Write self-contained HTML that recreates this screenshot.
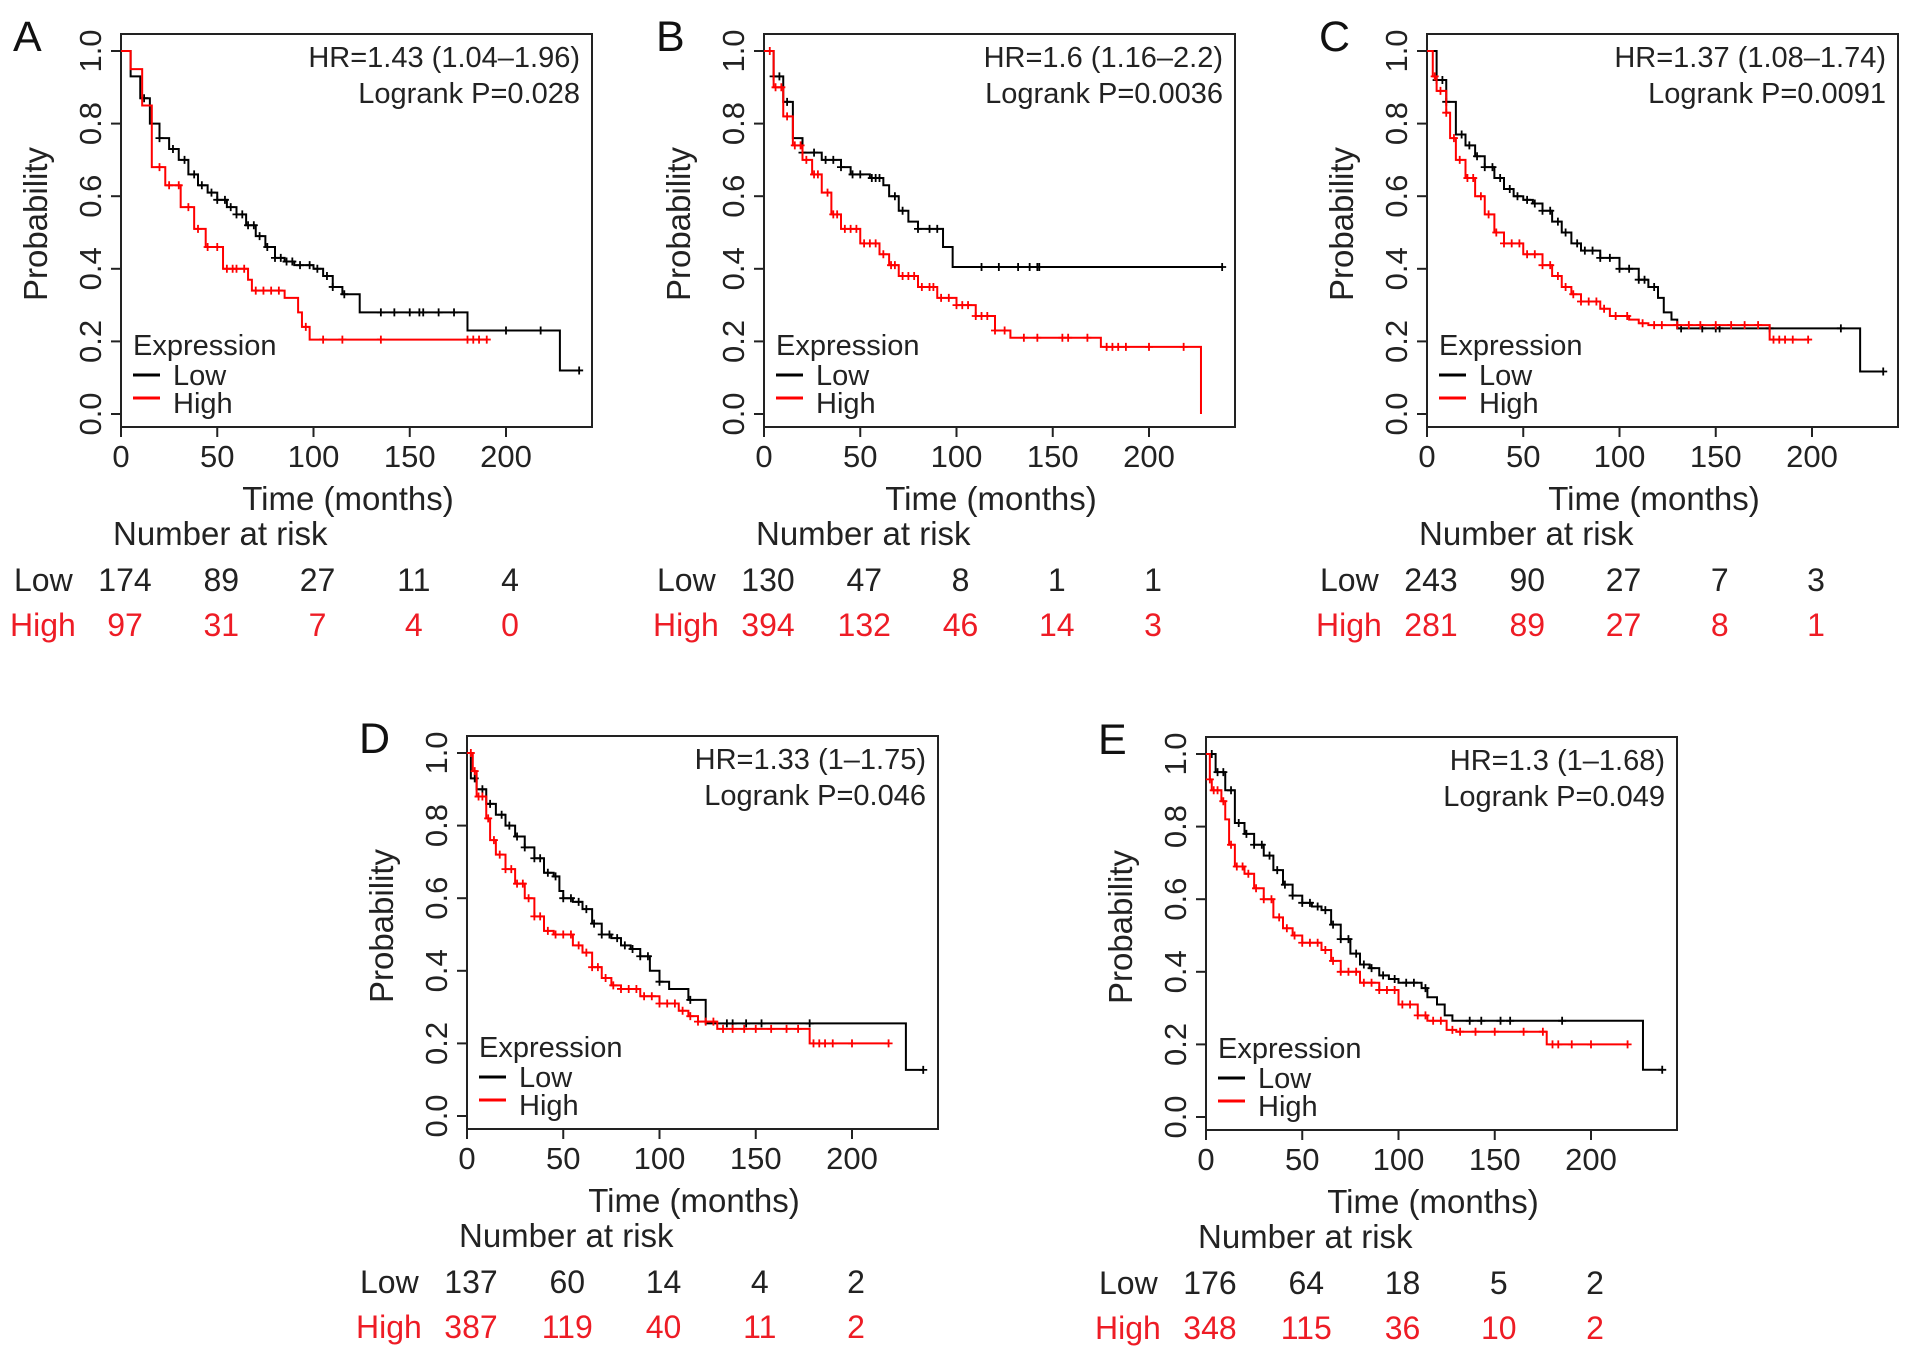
<!DOCTYPE html>
<html><head><meta charset="utf-8">
<style>
html,body{margin:0;padding:0;background:#fff;}
svg{display:block;font-family:"Liberation Sans",Arial,sans-serif;}
</style></head>
<body>
<svg id="fig" width="1913" height="1365" viewBox="0 0 1913 1365" xmlns="http://www.w3.org/2000/svg"></svg>
<script>
// ---- Data (months / survival probability) ----
const xTicks = [0, 50, 100, 150, 200];
const yTicks = [0, 0.2, 0.4, 0.6, 0.8, 1.0];
const yTickLabels = ["0.0", "0.2", "0.4", "0.6", "0.8", "1.0"];

// Panel A
const aLowT = [0,5,10,15,20,25,30,35,40,45,50,55,60,65,70,75,80,85,90,100,105,110,115,124,180,228];
const aLowS = [1,0.93,0.87,0.80,0.76,0.73,0.70,0.66,0.63,0.61,0.59,0.57,0.55,0.52,0.49,0.46,0.43,0.42,0.41,0.40,0.38,0.35,0.33,0.28,0.23,0.12];
const aLowEnd = 238;
const aLowC = [12,20,27,33,38,42,47,50,54,57,60,63,66,69,72,76,80,83,86,89,93,98,102,107,110,116,135,142,150,155,157,165,173,200,218,238];
const aHighT = [0,5,11,16,23,31,38,44,53,66,68,85,92,94,98];
const aHighS = [1,0.95,0.85,0.68,0.63,0.57,0.51,0.46,0.40,0.37,0.34,0.32,0.28,0.24,0.205];
const aHighEnd = 190;
const aHighC = [20,25,30,35,40,45,50,55,58,60,64,70,74,78,82,96,105,115,135,180,183,186,190];
const aRiskLow = [174,89,27,11,4];
const aRiskHigh = [97,31,7,4,0];

// Panel B
const bLowT = [0,5,10,15,20,30,40,45,55,62,65,70,75,80,93,98];
const bLowS = [1,0.93,0.86,0.76,0.72,0.70,0.68,0.66,0.65,0.63,0.60,0.56,0.53,0.51,0.46,0.405];
const bLowEnd = 238;
const bLowC = [5,8,12,20,26,32,36,40,46,50,56,58,60,68,72,80,86,90,113,122,132,138,142,143,238];
const bHighT = [0,5,10,15,20,25,30,35,40,50,60,65,70,80,90,100,110,120,128,175,227];
const bHighS = [1,0.90,0.82,0.74,0.70,0.66,0.61,0.55,0.51,0.47,0.44,0.41,0.38,0.35,0.32,0.30,0.27,0.23,0.21,0.185,0];
const bHighEnd = 227;
const bHighC = [3,6,9,12,16,19,22,26,28,33,36,38,42,45,48,52,55,58,62,66,68,72,75,78,82,86,88,92,96,100,103,106,110,113,116,120,125,135,142,155,158,168,178,181,184,188,200,218];
const bRiskLow = [130,47,8,1,1];
const bRiskHigh = [394,132,46,14,3];

// Panel C
const cLowT = [0,5,10,15,20,25,30,35,40,45,50,55,60,65,70,75,80,90,100,110,115,120,123,127,130,225];
const cLowS = [1,0.92,0.86,0.77,0.74,0.71,0.68,0.65,0.62,0.60,0.59,0.58,0.56,0.53,0.50,0.47,0.45,0.43,0.40,0.37,0.35,0.32,0.28,0.26,0.236,0.117];
const cLowEnd = 237;
const cLowC = [5,8,10,18,22,26,30,34,38,43,47,52,56,60,64,68,72,78,82,86,90,95,100,105,110,113,118,132,143,150,152,178,215,237];
const cHighT = [0,3,5,10,12,15,20,25,30,35,40,50,60,65,70,75,80,90,95,105,110,115,178];
const cHighS = [1,0.93,0.89,0.83,0.76,0.70,0.65,0.60,0.55,0.50,0.47,0.44,0.41,0.38,0.35,0.33,0.31,0.29,0.27,0.26,0.25,0.245,0.205];
const cHighEnd = 198;
const cHighC = [4,7,10,14,17,21,24,28,32,36,40,44,48,52,56,60,64,68,72,76,80,84,88,92,98,104,112,118,122,130,136,142,150,158,165,172,180,183,186,190,198];
const cRiskLow = [243,90,27,7,3];
const cRiskHigh = [281,89,27,8,1];

// Panel D
const dLowT = [0,2,5,10,15,20,25,30,35,40,45,48,50,55,60,65,70,75,80,85,90,95,100,105,115,124,228];
const dLowS = [1,0.93,0.90,0.86,0.83,0.80,0.77,0.74,0.71,0.67,0.66,0.62,0.60,0.59,0.57,0.53,0.50,0.49,0.47,0.46,0.44,0.40,0.37,0.35,0.32,0.255,0.127];
const dLowEnd = 237;
const dLowC = [4,8,12,18,22,26,30,35,38,42,46,50,54,58,62,66,70,74,78,82,86,90,94,100,116,135,138,145,153,178,237];
const dHighT = [0,3,5,10,12,15,20,25,30,35,40,45,55,60,65,70,75,80,90,100,110,115,120,130,178];
const dHighS = [1,0.95,0.88,0.82,0.76,0.72,0.68,0.64,0.60,0.55,0.51,0.50,0.47,0.45,0.41,0.38,0.36,0.35,0.33,0.31,0.29,0.275,0.26,0.24,0.20];
const dHighEnd = 219;
const dHighC = [2,4,6,8,11,14,17,20,23,26,29,32,35,38,42,46,50,54,58,62,65,68,72,76,80,84,88,92,96,100,104,108,112,116,120,124,128,133,138,144,150,158,166,172,180,183,186,190,200,219];
const dRiskLow = [137,60,14,4,2];
const dRiskHigh = [387,119,40,11,2];

// Panel E
const eLowT = [0,5,10,15,20,25,30,35,40,45,50,55,60,65,70,75,80,85,90,95,100,112,115,120,124,128,227];
const eLowS = [1,0.95,0.90,0.81,0.78,0.75,0.72,0.68,0.64,0.61,0.59,0.58,0.57,0.53,0.49,0.45,0.42,0.41,0.39,0.38,0.37,0.355,0.33,0.31,0.28,0.265,0.13];
const eLowEnd = 237;
const eLowC = [3,6,9,13,17,21,25,29,33,37,41,45,50,54,58,62,66,70,74,78,82,86,92,98,104,108,114,137,143,153,158,185,237];
const eHighT = [0,2,3,8,10,12,15,20,25,30,35,40,45,50,60,65,70,80,90,100,110,115,125,130,177];
const eHighS = [1,0.93,0.90,0.87,0.82,0.75,0.69,0.67,0.63,0.60,0.55,0.52,0.50,0.48,0.46,0.43,0.40,0.37,0.35,0.31,0.28,0.265,0.24,0.235,0.20];
const eHighEnd = 219;
const eHighC = [2,4,6,9,13,16,19,22,26,30,34,38,42,46,50,54,58,62,66,70,74,78,82,86,90,94,98,102,106,110,114,118,122,128,132,140,150,165,175,180,183,190,200,219];
const eRiskLow = [176,64,18,5,2];
const eRiskHigh = [348,115,36,10,2];

const RED = "#ff0000";
const TXTRED = "#ee1c25";
const svg = document.getElementById('fig');
const NS = "http://www.w3.org/2000/svg";

function mk(tag, attrs, parent, text) {
  const e = document.createElementNS(NS, tag);
  for (const k in attrs) e.setAttribute(k, attrs[k]);
  if (text !== undefined) e.textContent = text;
  parent.appendChild(e);
  return e;
}

function survAt(T, S, t) {
  let s = S[0];
  for (let i = 0; i < T.length; i++) { if (T[i] <= t) s = S[i]; }
  return s;
}

function drawPanel(p) {
  const g = mk('g', {}, svg);
  
  
  const L = p.L, T = p.T, W = 471, H = 393;
  const xs = t => L + t * 1.925;
  const ys = s => T + 17 + (1 - s) * 363;

  const lbl = mk('text', {x: L - 108, y: T + 17, 'font-size': 43, fill: '#111'}, g, p.letter);
  
  

  const box = mk('rect', {x: L, y: T, width: W, height: H, fill: 'none', stroke: '#222', 'stroke-width': 2}, g);
  
  

  // x axis
  const xa = mk('g', {}, g);
  
  
  xTicks.forEach(v => {
    mk('line', {x1: xs(v), x2: xs(v), y1: T + H, y2: T + H + 10, stroke: '#222', 'stroke-width': 2}, xa);
    const t = mk('text', {x: xs(v), y: T + H + 40, 'font-size': 31, 'text-anchor': 'middle', fill: '#222'}, xa, String(v));
    
    
  });
  const xt = mk('text', {x: L + 227, y: T + 476, 'font-size': 33, 'text-anchor': 'middle', fill: '#222'}, g, 'Time (months)');
  
  

  // y axis
  const ya = mk('g', {}, g);
  
  
  yTicks.forEach((v, i) => {
    mk('line', {x1: L - 10, x2: L, y1: ys(v), y2: ys(v), stroke: '#222', 'stroke-width': 2}, ya);
    const t = mk('text', {x: 0, y: 0, 'font-size': 31, 'text-anchor': 'middle', fill: '#222',
      transform: `translate(${L - 20},${ys(v)}) rotate(-90)`}, ya, yTickLabels[i]);
    
    
  });
  const yt = mk('text', {x: 0, y: 0, 'font-size': 33, 'text-anchor': 'middle', fill: '#222',
    transform: `translate(${L - 74},${T + 190}) rotate(-90)`}, g, 'Probability');
  
  

  // curves
  function curve(Ts, Ss, end, C, color, name) {
    const cg = mk('g', {}, g);
    
    
    let d = `M${xs(Ts[0])},${ys(Ss[0])}`;
    for (let i = 1; i < Ts.length; i++) d += ` H${xs(Ts[i])} V${ys(Ss[i])}`;
    d += ` H${xs(end)}`;
    mk('path', {d: d, fill: 'none', stroke: color, 'stroke-width': 2}, cg);
    C.forEach(t => {
      const s = survAt(Ts, Ss, t);
      const cx = xs(t), cy = ys(s);
      const m = mk('path', {d: `M${cx - 4},${cy} H${cx + 4} M${cx},${cy - 4} V${cy + 4}`, stroke: color, 'stroke-width': 1.8}, cg);
      
      
    });
  }
  curve(p.lowT, p.lowS, p.lowEnd, p.lowC, '#000', 'low-expression-curve');
  curve(p.highT, p.highS, p.highEnd, p.highC, RED, 'high-expression-curve');

  // stats
  const hr = mk('text', {x: L + 459, y: T + 33, 'font-size': 29, 'text-anchor': 'end', fill: '#222'}, g, p.hr);
  
  
  const lp = mk('text', {x: L + 459, y: T + 69, 'font-size': 29, 'text-anchor': 'end', fill: '#222'}, g, p.p);
  
  

  // legend
  const lg = mk('g', {}, g);
  
  
  mk('text', {x: L + 12, y: T + 321, 'font-size': 29, fill: '#222'}, lg, 'Expression');
  mk('line', {x1: L + 12, x2: L + 39, y1: T + 341, y2: T + 341, stroke: '#000', 'stroke-width': 3}, lg);
  const ll = mk('text', {x: L + 52, y: T + 351, 'font-size': 29, fill: '#222'}, lg, 'Low');
  
  
  mk('line', {x1: L + 12, x2: L + 39, y1: T + 364, y2: T + 364, stroke: RED, 'stroke-width': 3}, lg);
  const lh = mk('text', {x: L + 52, y: T + 379, 'font-size': 29, fill: '#222'}, lg, 'High');
  
  

  // risk table
  const rt = mk('g', {}, g);
  
  
  mk('text', {x: L - 8, y: T + 511, 'font-size': 33, fill: '#222'}, rt, 'Number at risk');
  mk('text', {x: L - 107, y: T + 557, 'font-size': 32, fill: '#222'}, rt, 'Low');
  mk('text', {x: L - 111, y: T + 602, 'font-size': 32, fill: TXTRED}, rt, 'High');
  xTicks.forEach((v, i) => {
    const a = mk('text', {x: xs(v) + 4, y: T + 557, 'font-size': 32, 'text-anchor': 'middle', fill: '#222'}, rt, String(p.riskLow[i]));
    
    
    const b = mk('text', {x: xs(v) + 4, y: T + 602, 'font-size': 32, 'text-anchor': 'middle', fill: TXTRED}, rt, String(p.riskHigh[i]));
    
    
  });
}

drawPanel({letter: 'A', L: 121, T: 34, hr: 'HR=1.43 (1.04\u20131.96)', p: 'Logrank P=0.028',
  lowT: aLowT, lowS: aLowS, lowEnd: aLowEnd, lowC: aLowC, highT: aHighT, highS: aHighS, highEnd: aHighEnd, highC: aHighC,
  riskLow: aRiskLow, riskHigh: aRiskHigh});
drawPanel({letter: 'B', L: 764, T: 34, hr: 'HR=1.6 (1.16\u20132.2)', p: 'Logrank P=0.0036',
  lowT: bLowT, lowS: bLowS, lowEnd: bLowEnd, lowC: bLowC, highT: bHighT, highS: bHighS, highEnd: bHighEnd, highC: bHighC,
  riskLow: bRiskLow, riskHigh: bRiskHigh});
drawPanel({letter: 'C', L: 1427, T: 34, hr: 'HR=1.37 (1.08\u20131.74)', p: 'Logrank P=0.0091',
  lowT: cLowT, lowS: cLowS, lowEnd: cLowEnd, lowC: cLowC, highT: cHighT, highS: cHighS, highEnd: cHighEnd, highC: cHighC,
  riskLow: cRiskLow, riskHigh: cRiskHigh});
drawPanel({letter: 'D', L: 467, T: 736, hr: 'HR=1.33 (1\u20131.75)', p: 'Logrank P=0.046',
  lowT: dLowT, lowS: dLowS, lowEnd: dLowEnd, lowC: dLowC, highT: dHighT, highS: dHighS, highEnd: dHighEnd, highC: dHighC,
  riskLow: dRiskLow, riskHigh: dRiskHigh});
drawPanel({letter: 'E', L: 1206, T: 737, hr: 'HR=1.3 (1\u20131.68)', p: 'Logrank P=0.049',
  lowT: eLowT, lowS: eLowS, lowEnd: eLowEnd, lowC: eLowC, highT: eHighT, highS: eHighS, highEnd: eHighEnd, highC: eHighC,
  riskLow: eRiskLow, riskHigh: eRiskHigh});
</script>
</body></html>
